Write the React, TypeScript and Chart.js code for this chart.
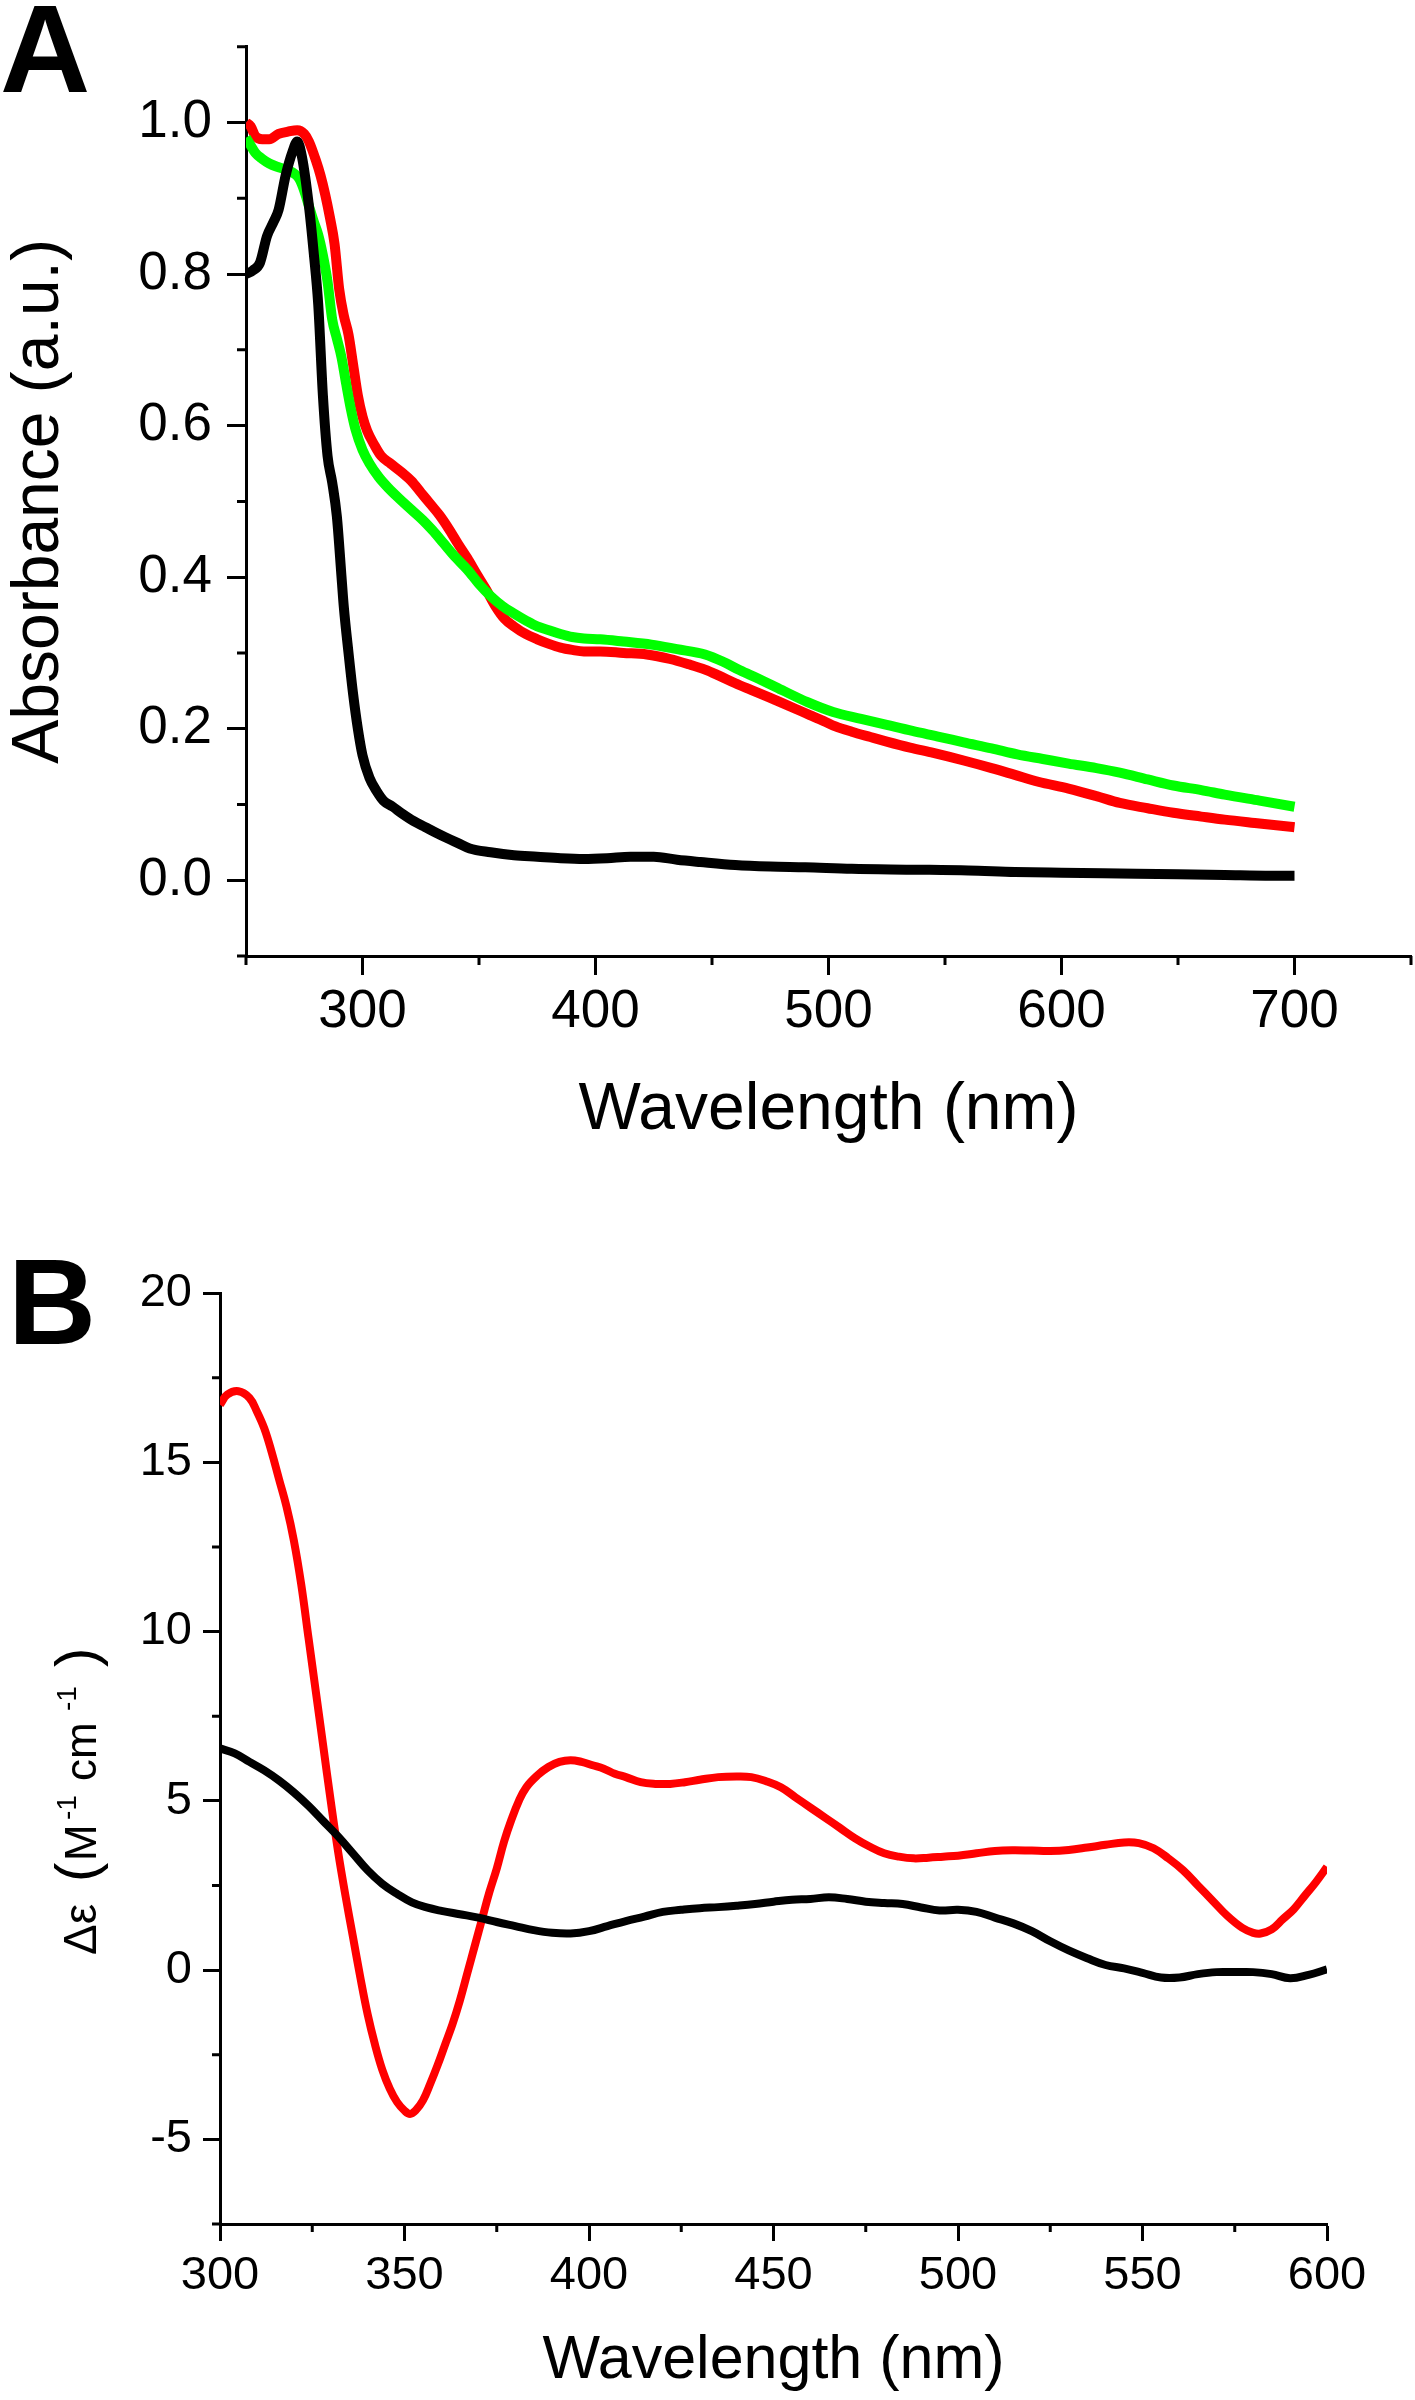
import React, { useEffect, useRef } from "react";
import { Chart, registerables } from "chart.js";

Chart.register(...registerables);

const FONT = "'Liberation Sans', Arial, Helvetica, sans-serif";

// ---------------- Panel A: absorbance ----------------
const A_X_MAJOR = [300, 400, 500, 600, 700];
const A_X_MINOR = [250, 350, 450, 550, 650, 750];
const A_Y_MAJOR = [0, 0.2, 0.4, 0.6, 0.8, 1.0];
const A_Y_MINOR = [-0.1, 0.1, 0.3, 0.5, 0.7, 0.9, 1.1];

const A_BLACK_NM = [250, 253, 256, 259, 262, 264, 267, 270, 272, 274, 277, 279, 281, 283, 285, 287, 289, 291, 292, 294, 296, 298, 300, 303, 306, 309, 313, 317, 322, 327, 332, 336, 341, 346, 355, 365, 375, 385, 395, 405, 415, 425, 435, 445, 460, 475, 490, 510, 535, 560, 580, 600, 625, 650, 670, 690, 700];
const A_BLACK_ABS = [0.800, 0.805, 0.815, 0.850, 0.870, 0.885, 0.930, 0.962, 0.975, 0.955, 0.890, 0.830, 0.760, 0.640, 0.560, 0.525, 0.480, 0.400, 0.360, 0.300, 0.245, 0.200, 0.165, 0.135, 0.118, 0.105, 0.097, 0.088, 0.078, 0.070, 0.062, 0.056, 0.049, 0.042, 0.037, 0.033, 0.031, 0.029, 0.028, 0.029, 0.031, 0.031, 0.027, 0.024, 0.020, 0.018, 0.017, 0.015, 0.014, 0.013, 0.011, 0.010, 0.009, 0.008, 0.007, 0.006, 0.006];

const A_RED_NM = [250, 252, 254, 257, 260, 264, 268, 272, 275, 277, 280, 282, 284, 286, 288, 290, 292, 294, 296, 298, 300, 302, 305, 308, 312, 317, 321, 325, 329, 333, 337, 341, 345, 349, 353, 357, 361, 365, 370, 375, 380, 385, 390, 395, 402, 412, 422, 432, 440, 447, 453, 460, 467, 474, 480, 486, 492, 498, 503, 510, 518, 525, 535, 545, 558, 570, 580, 590, 603, 615, 625, 637, 648, 660, 670, 685, 700];
const A_RED_ABS = [1.000, 0.995, 0.982, 0.978, 0.978, 0.985, 0.988, 0.990, 0.985, 0.975, 0.950, 0.930, 0.905, 0.875, 0.840, 0.780, 0.745, 0.720, 0.680, 0.640, 0.612, 0.593, 0.575, 0.560, 0.550, 0.538, 0.527, 0.512, 0.497, 0.482, 0.464, 0.444, 0.425, 0.404, 0.384, 0.362, 0.345, 0.335, 0.325, 0.318, 0.312, 0.307, 0.304, 0.302, 0.302, 0.300, 0.298, 0.292, 0.285, 0.278, 0.270, 0.260, 0.251, 0.242, 0.234, 0.226, 0.218, 0.210, 0.203, 0.196, 0.189, 0.183, 0.175, 0.168, 0.158, 0.148, 0.139, 0.130, 0.121, 0.111, 0.102, 0.095, 0.089, 0.084, 0.080, 0.075, 0.070];

const A_GREEN_NM = [250, 252, 254, 257, 260, 264, 268, 271, 273, 275, 277, 279, 281, 283, 285, 287, 289, 291, 293, 295, 297, 300, 303, 307, 311, 316, 321, 326, 330, 335, 340, 345, 350, 355, 360, 365, 370, 375, 380, 385, 390, 395, 402, 412, 424, 435, 447, 455, 462, 470, 480, 491, 502, 514, 525, 536, 548, 558, 570, 581, 592, 603, 615, 625, 637, 648, 660, 670, 685, 700];
const A_GREEN_ABS = [0.980, 0.970, 0.960, 0.952, 0.946, 0.941, 0.937, 0.932, 0.925, 0.910, 0.890, 0.870, 0.852, 0.825, 0.790, 0.740, 0.715, 0.690, 0.655, 0.622, 0.595, 0.568, 0.550, 0.532, 0.518, 0.503, 0.489, 0.475, 0.462, 0.444, 0.426, 0.410, 0.391, 0.375, 0.362, 0.352, 0.343, 0.335, 0.330, 0.325, 0.321, 0.319, 0.318, 0.315, 0.311, 0.305, 0.298, 0.288, 0.277, 0.266, 0.251, 0.235, 0.222, 0.213, 0.205, 0.197, 0.189, 0.182, 0.174, 0.166, 0.160, 0.154, 0.148, 0.142, 0.133, 0.125, 0.119, 0.113, 0.105, 0.097];

// ---------------- Panel B: CD ----------------
const B_X_MAJOR = [300, 350, 400, 450, 500, 550, 600];
const B_X_MINOR = [325, 375, 425, 475, 525, 575];
const B_Y_MAJOR = [-5, 0, 5, 10, 15, 20];
const B_Y_MINOR = [-7.5, -2.5, 2.5, 7.5, 12.5, 17.5];

const B_RED_NM = [300, 302, 305, 308, 310, 312, 314, 316, 318, 320, 322, 324, 326, 328, 330, 332, 334, 336, 338, 340, 342, 344, 346, 348, 350, 351.5, 353, 355, 357, 359, 361, 363, 365, 367, 369, 371, 373, 375, 377, 379, 381, 383, 386, 389, 392, 395, 398, 401, 404, 407, 410, 414, 418, 422, 426, 430, 435, 440, 444, 448, 452, 456, 460, 464, 468, 472, 476, 480, 484, 488, 492, 496, 500, 505, 510, 515, 520, 525, 530, 535, 540, 545, 549, 553, 557, 561, 565, 569, 573, 577, 580, 582, 585, 588, 591, 594, 597, 600];
const B_RED_DE = [16.7, 17.0, 17.1, 16.9, 16.5, 16.0, 15.3, 14.5, 13.7, 12.7, 11.4, 9.8, 8.2, 6.6, 5.0, 3.5, 2.2, 1.0, -0.2, -1.3, -2.2, -2.95, -3.5, -3.9, -4.15, -4.25, -4.15, -3.85, -3.35, -2.8, -2.2, -1.6, -0.9, -0.1, 0.7, 1.5, 2.3, 3.0, 3.8, 4.45, 5.0, 5.4, 5.75, 6.0, 6.15, 6.2, 6.15, 6.05, 5.95, 5.8, 5.7, 5.55, 5.5, 5.5, 5.55, 5.62, 5.7, 5.72, 5.7, 5.58, 5.4, 5.1, 4.8, 4.5, 4.2, 3.9, 3.65, 3.45, 3.35, 3.3, 3.32, 3.35, 3.38, 3.45, 3.52, 3.54, 3.53, 3.52, 3.55, 3.62, 3.7, 3.77, 3.75, 3.6, 3.3, 2.95, 2.5, 2.05, 1.6, 1.25, 1.1, 1.08, 1.2, 1.5, 1.8, 2.2, 2.6, 3.05];

const B_BLACK_NM = [300, 304, 308, 312, 316, 320, 324, 328, 332, 336, 340, 344, 348, 352, 356, 360, 365, 370, 375, 380, 385, 390, 395, 400, 405, 410, 415, 420, 425, 430, 435, 440, 445, 450, 455, 460, 465, 470, 475, 480, 485, 490, 495, 500, 505, 510, 515, 520, 525, 530, 535, 540, 545, 550, 555, 560, 565, 570, 575, 580, 585, 590, 595, 600];
const B_BLACK_DE = [6.55, 6.4, 6.15, 5.9, 5.6, 5.25, 4.85, 4.4, 3.95, 3.45, 2.95, 2.55, 2.25, 2.0, 1.85, 1.75, 1.65, 1.55, 1.42, 1.3, 1.18, 1.1, 1.08, 1.15, 1.3, 1.45, 1.58, 1.72, 1.78, 1.83, 1.86, 1.9, 1.95, 2.02, 2.08, 2.1, 2.15, 2.1, 2.02, 1.98, 1.95, 1.85, 1.76, 1.78, 1.72, 1.55, 1.38, 1.15, 0.85, 0.58, 0.35, 0.15, 0.05, -0.08, -0.22, -0.22, -0.12, -0.06, -0.06, -0.06, -0.12, -0.24, -0.14, 0.02];

const pts = (xs: number[], ys: number[]) => xs.map((x, i) => ({ x, y: ys[i] }));

const decorPlugin = {
  id: "decor",
  afterDraw(chart: any, _args: any, opts: any) {
    const ctx = chart.ctx;
    const ca = chart.chartArea;
    const xs = chart.scales.x;
    const ys = chart.scales.y;
    ctx.save();
    ctx.strokeStyle = "#000";
    ctx.lineWidth = opts.tickWidth;
    ctx.lineCap = "butt";
    ctx.beginPath();
    for (const v of opts.minorX) {
      const px = xs.getPixelForValue(v);
      ctx.moveTo(px, ca.bottom);
      ctx.lineTo(px, ca.bottom + opts.minorLen);
    }
    for (const v of opts.minorY) {
      const py = ys.getPixelForValue(v);
      ctx.moveTo(ca.left - opts.minorLen, py);
      ctx.lineTo(ca.left, py);
    }
    ctx.stroke();

    ctx.fillStyle = "#000";
    ctx.textAlign = "left";
    ctx.textBaseline = "alphabetic";
    ctx.font = `bold ${opts.panelSize}px ${FONT}`;
    ctx.fillText(opts.panel, opts.panelX, opts.panelY);

    if (opts.titlePieces) {
      ctx.translate(opts.titleX, opts.titleY);
      ctx.rotate(-Math.PI / 2);
      for (const p of opts.titlePieces) {
        ctx.font = `${p.size}px ${p.family || FONT}`;
        ctx.fillText(p.t, p.o, -(p.raise || 0));
      }
    }
    ctx.restore();
  },
};

function axis(major: number[], tickLen: number, fontSize: number, pad: number, fmt: (v: number) => string, fixed: { w?: number; h?: number }, min: number, max: number) {
  return {
    type: "linear" as const,
    min,
    max,
    afterBuildTicks: (s: any) => {
      s.ticks = major.map((v) => ({ value: v }));
    },
    afterFit: (s: any) => {
      if (fixed.w !== undefined) s.width = fixed.w;
      if (fixed.h !== undefined) s.height = fixed.h;
    },
    ticks: {
      color: "#000",
      font: { family: FONT, size: fontSize },
      padding: pad,
      autoSkip: false,
      maxRotation: 0,
      minRotation: 0,
      callback: (v: any) => fmt(Number(v)),
    },
    grid: {
      display: true,
      drawOnChartArea: false,
      drawTicks: true,
      tickLength: tickLen,
      tickWidth: 3,
      tickColor: "#000",
      color: "#000",
    },
    border: { display: true, color: "#000", width: 3 },
  };
}

function line(data: { x: number; y: number }[], color: string, width: number, smooth: "monotone" | number) {
  const base: any = {
    data,
    borderColor: color,
    backgroundColor: color,
    borderWidth: width,
    pointRadius: 0,
    fill: false,
    borderJoinStyle: "round",
  };
  if (smooth === "monotone") base.cubicInterpolationMode = "monotone";
  else base.tension = smooth;
  return base;
}

export default function App() {
  const refA = useRef<HTMLCanvasElement>(null);
  const refB = useRef<HTMLCanvasElement>(null);

  useEffect(() => {
    Chart.defaults.font.family = FONT;
    Chart.defaults.color = "#000";

    const xA = axis(A_X_MAJOR, 19, 53, 6, (v) => String(v), { h: 204 }, 250, 750);
    const yA = axis(A_Y_MAJOR, 19, 53, 15, (v) => v.toFixed(1), { w: 246 }, -0.1, 1.1);
    const chartA = new Chart(refA.current as HTMLCanvasElement, {
      type: "line",
      data: {
        datasets: [
          line(pts(A_BLACK_NM, A_BLACK_ABS), "#000000", 10, "monotone"),
          line(pts(A_GREEN_NM, A_GREEN_ABS), "#00FF00", 10, "monotone"),
          line(pts(A_RED_NM, A_RED_ABS), "#FF0000", 10, "monotone"),
        ],
      },
      options: {
        animation: false,
        responsive: false,
        maintainAspectRatio: false,
        layout: { padding: { top: 7, right: 4, left: 0, bottom: 0 } },
        scales: {
          x: { ...xA, title: { display: true, text: "Wavelength (nm)", color: "#000", font: { family: FONT, size: 66 }, padding: { top: 0, bottom: 10 } } },
          y: { ...yA, title: { display: true, text: "Absorbance (a.u.)", color: "#000", font: { family: FONT, size: 66 }, padding: { top: 0, bottom: 0 } } },
        },
        plugins: {
          legend: { display: false },
          tooltip: { enabled: false },
          decor: {
            minorX: A_X_MINOR,
            minorY: A_Y_MINOR,
            minorLen: 9,
            tickWidth: 3,
            panel: "A",
            panelSize: 125,
            panelX: 0,
            panelY: 92,
          },
        } as any,
      },
      plugins: [decorPlugin],
    } as any);

    const xB = axis(B_X_MAJOR, 17, 47, 7, (v) => String(v), { h: 176 }, 300, 600);
    const yB = axis(B_Y_MAJOR, 17, 47, 11, (v) => String(v), { w: 220 }, -7.5, 20);
    const chartB = new Chart(refB.current as HTMLCanvasElement, {
      type: "line",
      data: {
        datasets: [
          line(pts(B_BLACK_NM, B_BLACK_DE), "#000000", 8, 0.4),
          line(pts(B_RED_NM, B_RED_DE), "#FF0000", 8, 0.4),
        ],
      },
      options: {
        animation: false,
        responsive: false,
        maintainAspectRatio: false,
        layout: { padding: { top: 133, right: 88, left: 0, bottom: 0 } },
        scales: {
          x: { ...xB, title: { display: true, text: "Wavelength (nm)", color: "#000", font: { family: FONT, size: 61 }, padding: { top: 0, bottom: 2 } } },
          y: { ...yB, title: { display: false } },
        },
        plugins: {
          legend: { display: false },
          tooltip: { enabled: false },
          decor: {
            minorX: B_X_MINOR,
            minorY: B_Y_MINOR,
            minorLen: 8,
            tickWidth: 3,
            panel: "B",
            panelSize: 122,
            panelX: 8,
            panelY: 184,
            titleX: 96,
            titleY: 795,
            titlePieces: [
              { t: "Δε", o: 0, size: 46 },
              { t: "(", o: 73, size: 58 },
              { t: "M", o: 94, size: 44 },
              { t: "-1", o: 135, size: 28, raise: 20 },
              { t: "cm", o: 174, size: 44 },
              { t: "-1", o: 244, size: 28, raise: 20 },
              { t: ")", o: 288, size: 58 },
            ],
          },
        } as any,
      },
      plugins: [decorPlugin],
    } as any);

    return () => {
      chartA.destroy();
      chartB.destroy();
    };
  }, []);

  return (
    <div style={{ position: "absolute", left: 0, top: 0, width: 1415, height: 2400, background: "#fff" }}>
      <canvas ref={refA} width={1415} height={1160} style={{ position: "absolute", left: 0, top: 0, display: "block" }} />
      <canvas ref={refB} width={1415} height={1240} style={{ position: "absolute", left: 0, top: 1160, display: "block" }} />
    </div>
  );
}
